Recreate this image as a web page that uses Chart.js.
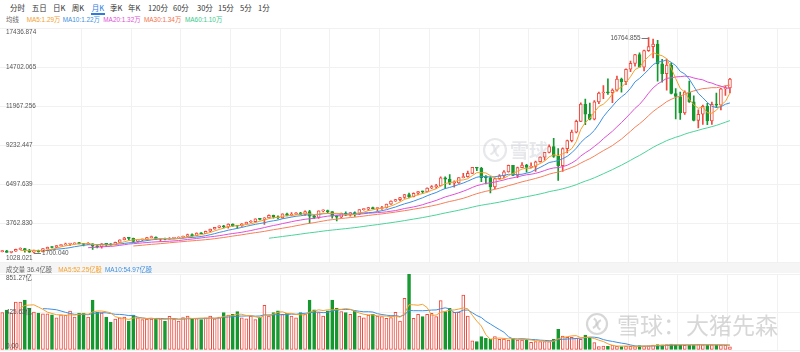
<!DOCTYPE html>
<html><head><meta charset="utf-8">
<script src="https://cdn.jsdelivr.net/npm/chart.js@4.4.1/dist/chart.umd.min.js"></script>
<style>
html,body{margin:0;padding:0;background:#fff;}
#wrap{position:relative;width:800px;height:352px;overflow:hidden;font-family:"Liberation Sans","Noto Sans CJK SC",sans-serif;}
.tab{position:absolute;top:4.2px;font-size:7.5px;line-height:1;color:#333;white-space:nowrap;font-family:"Noto Sans CJK SC",sans-serif;}
.lg{position:absolute;font-size:6.4px;line-height:1;white-space:nowrap;font-family:"Liberation Sans","Noto Sans CJK SC",sans-serif;}
#ul{position:absolute;left:90.5px;top:13.2px;width:14px;height:1.6px;background:#2b7be0;}
#band{position:absolute;left:0;top:263px;width:800px;height:10px;background:#f5f5f5;}
canvas{position:absolute;left:0;}
</style></head>
<body><div id="wrap">
<div class="tab" style="left:10px">分时</div>
<div class="tab" style="left:31.7px">五日</div>
<div class="tab" style="left:53px">日K</div>
<div class="tab" style="left:71.7px">周K</div>
<div class="tab" style="left:91.7px;color:#2b7be0">月K</div>
<div class="tab" style="left:110px">季K</div>
<div class="tab" style="left:128px">年K</div>
<div class="tab" style="left:148px">120分</div>
<div class="tab" style="left:173px">60分</div>
<div class="tab" style="left:197px">30分</div>
<div class="tab" style="left:218px">15分</div>
<div class="tab" style="left:240px">5分</div>
<div class="tab" style="left:258px">1分</div>
<div id="ul"></div>
<div class="lg" style="left:6px;top:17.1px;color:#666">均线</div>
<div class="lg" style="left:26.7px;top:17.1px;color:#f5a02a">MA5:1.29万</div>
<div class="lg" style="left:62.7px;top:17.1px;color:#3d8fe0">MA10:1.22万</div>
<div class="lg" style="left:103.3px;top:17.1px;color:#e04fd6">MA20:1.32万</div>
<div class="lg" style="left:144px;top:17.1px;color:#f5704a">MA30:1.34万</div>
<div class="lg" style="left:185px;top:17.1px;color:#38c888">MA60:1.10万</div>
<canvas id="pc" width="800" height="264" style="top:0"></canvas>
<div id="band"></div>
<canvas id="vc" width="800" height="88" style="top:264px"></canvas>
<div class="lg" style="left:6px;top:266.8px;color:#666">成交量 36.4亿股</div>
<div class="lg" style="left:58.3px;top:266.8px;color:#f5a02a">MA5:52.25亿股</div>
<div class="lg" style="left:105px;top:266.8px;color:#3d8fe0">MA10:54.97亿股</div>
</div>
<script>
// ---- data: monthly candles Dec 2009 .. May 2023 ----
const opens = [1797,
 1860,1741,1819,1957,2007,1862,1764,1868,1781,2000,2091,2087,
 2218,2265,2327,2339,2409,2360,2300,2342,2171,2136,2337,2306,
 2278,2446,2626,2755,2723,2515,2616,2632,2773,2800,2662,2677,
 2661,2732,2738,2818,2866,2988,2910,3094,3048,3218,3372,3487,
 3592,3521,3714,3596,3587,3736,3850,3889,4082,4050,4158,4334,
 4236,4151,4444,4334,4415,4508,4396,4589,4274,4181,4648,4665,
 4593,4280,4201,4483,4341,4524,4418,4730,4771,4875,4801,4810,
 4864,5118,5330,5436,5584,5788,5647,5880,5988,5979,6248,6337,
 6396,6950,6855,6581,6606,6967,7040,7272,7690,7628,6967,6950,
 6330,6906,7097,7378,7826,7128,7672,7842,7692,7750,8083,8403,
 8733,9151,8462,7813,9000,9555,10157,10905,12111,11418,11053,12268,
 12888,12925,12909,13091,13861,13687,14554,14959,15583,14690,15850,16135,
 16320,14930,14238,14838,12855,12643,11504,12947,12272,10971,11406,11952,
 10940,12101,12042,13181,13245];
const highs = [1885,
 1887,1823,1967,2061,2030,1951,1902,1905,2010,2113,2148,2222,
 2287,2389,2352,2417,2439,2369,2432,2354,2258,2363,2353,2355,
 2471,2629,2795,2794,2750,2620,2672,2793,2878,2822,2682,2741,
 2782,2780,2825,2875,3016,3041,3102,3130,3236,3376,3495,3598,
 3632,3738,3736,3640,3752,3860,3969,4082,4118,4169,4362,4355,
 4303,4447,4484,4520,4526,4536,4643,4690,4380,4655,4717,4698,
 4593,4333,4498,4580,4530,4580,4735,4800,4896,4915,4880,4965,
 5124,5350,5462,5600,5800,5896,5900,5998,6035,6260,6420,6500,
 7022,7030,7187,6750,6980,7276,7430,7700,7690,7700,7120,7040,
 6940,7180,7460,7845,7840,7710,8030,7900,8000,8120,8430,8740,
 9270,9720,9000,9050,9600,10300,10990,12200,12466,12190,12360,12950,
 13410,13880,13180,14070,13940,14580,15120,15600,15700,15900,16764.855,16660,
 16580,15250,15270,14980,13200,12950,13040,13720,12700,11720,12050,12170,
 12260,12880,13210,13400,13920];
const lows = [1778,
 1740,1712,1815,1950,1765,1745,1700.04,1764,1780,1990,2060,2080,
 2201,2254,2205,2316,2330,2197,2290,1953,2055,2040,2140,2223,
 2270,2439,2607,2620,2444,2455,2540,2600,2750,2631,2502,2620,
 2660,2700,2722,2753,2860,2862,2900,3045,3046,3183,3360,3455,
 3458,3443,3551,3415,3555,3720,3845,3860,4018,3700,4150,4140,
 4078,4110,4300,4300,4395,4380,4325,3787,4100,4120,4565,4520,
 4132,3948,4150,4313,4281,4260,4385,4702,4680,4790,4650,4740,
 4840,5100,5305,5340,5525,5550,5620,5755,5860,5970,6200,6210,
 6390,6200,6475,6300,6560,6950,7000,7240,7450,6685,6530,5900,
 6200,6850,6950,7350,7100,6976,7660,7360,7660,7410,8060,8200,
 8700,8390,6771,7400,8700,9470,10090,10880,10680,11000,11000,12150,
 12500,12790,12210,13020,12950,13480,14390,14770,14690,14440,15800,15350,
 13720,13640,13090,12820,11070,11040,11400,12240,10940,10440,10690,10670,
 10700,11860,11700,12720,12900];
const closes = [1860,
 1741,1819,1957,2007,1862,1764,1868,1781,2000,2091,2087,2218,
 2265,2327,2339,2409,2360,2300,2342,2171,2136,2337,2306,2278,
 2446,2626,2755,2723,2515,2616,2632,2773,2800,2662,2677,2661,
 2732,2738,2818,2866,2988,2910,3094,3048,3218,3372,3487,3592,
 3521,3714,3596,3587,3736,3850,3889,4082,4050,4158,4334,4236,
 4151,4444,4334,4415,4508,4396,4589,4274,4181,4648,4665,4593,
 4280,4201,4483,4341,4524,4418,4730,4771,4875,4801,4810,4864,
 5118,5330,5436,5584,5788,5647,5880,5988,5979,6248,6337,6396,
 6950,6855,6581,6606,6967,7040,7272,7690,7628,6967,6950,6330,
 6906,7097,7378,7826,7128,7672,7842,7692,7750,8083,8403,8733,
 9151,8462,7813,9000,9555,10157,10905,12111,11418,11053,12268,12888,
 12925,12909,13091,13861,13687,14554,14959,15583,14690,15850,16135,16320,
 14930,14238,14838,12855,12643,11504,12947,12272,10971,11406,11952,10940,
 12101,12042,13181,13245,13865];
// volume, 亿股
const volumes = [420,
 448,414,537,537,560,470,425,413,406,406,395,359,
 395,388,436,370,414,414,370,560,425,414,370,314,
 347,359,370,324,392,359,342,347,347,347,347,324,
 376,347,324,362,381,353,353,340,360,380,350,370,
 420,390,400,430,360,350,380,340,370,500,380,420,
 440,400,410,380,360,420,400,560,450,420,380,440,
 560,470,430,420,400,440,380,360,390,400,380,373,
 355,362,422,325,578,851.27,355,400,373,400,410,373,
 553,429,467,422,422,616,381,104,93,149,131,123,
 149,120,123,112,131,112,112,120,86,93,93,93,
 93,120,231,157,142,142,131,120,168,142,82,37,
 45,40,55,42,38,45,40,38,50,45,48,55,
 60,58,62,65,60,55,52,56,58,60,57.45,57,
 58,57.5,56,53.35,36.4];
const priceTickLabels = ['17436.874','14702.065','11967.256','9232.447','6497.639','3762.830','1028.021'];
const volTickLabels = ['851.27亿','425.63亿','0.00'];
const volTickValues = [851.27, 425.635, 0];

// ---- styles ----
const UP = '#ee4a3e', DOWN = '#15982f';
const C_MA5 = '#f5a02a', C_MA10 = '#3d8fe0', C_MA20 = '#e04fd6', C_MA30 = '#f5805a', C_MA60 = '#4cd39a';
const LABEL_FONT = '6.4px "Liberation Sans", "Noto Sans CJK SC", sans-serif';
const X_MIN = -0.5, X_MAX = 176.5, GRID_STEP = 11, GRID_START = 1;
const GRID_COLOR = '#f1f1f1';

const priceTicks = priceTickLabels.map(Number);
const isUp = closes.map((c, i) => c >= opens[i]);
function sma(arr, n) {
  const out = [];
  for (let i = 0; i < arr.length; i++) {
    if (i < n - 1) { out.push(null); continue; }
    let s = 0; for (let j = i - n + 1; j <= i; j++) s += arr[j];
    out.push(s / n);
  }
  return out;
}
const pts = arr => arr.map((v, i) => ({x: i, y: v}));
function lineDs(arr, color) {
  return {type: 'line', data: pts(arr), borderColor: color, borderWidth: 1, pointRadius: 0, tension: 0, order: 0, clip: false};
}
function xScale() {
  return {
    type: 'linear', min: X_MIN, max: X_MAX, offset: false,
    ticks: {display: false}, border: {display: false},
    grid: {color: GRID_COLOR, drawTicks: false},
    afterBuildTicks(s) { const t = []; for (let v = GRID_START; v < X_MAX; v += GRID_STEP) t.push({value: v}); s.ticks = t; }
  };
}
function labelPlugin(id, values, labels) {
  return {id, afterDraw(chart) {
    const {ctx, chartArea: a, scales: {y}} = chart;
    ctx.save(); ctx.font = LABEL_FONT; ctx.fillStyle = '#555'; ctx.textAlign = 'left';
    values.forEach((v, k) => {
      const py = y.getPixelForValue(v);
      let b = 'middle', dy = 0;
      if (k === 0) { b = 'top'; dy = 1.2; } else if (k === values.length - 1) { b = 'bottom'; dy = -0.8; }
      ctx.textBaseline = b; ctx.fillText(labels[k], a.left + 6, py + dy);
    });
    ctx.restore();
  }};
}
function drawLogo(ctx, cx, cy, r, color, lw) {
  ctx.save(); ctx.strokeStyle = color; ctx.lineWidth = lw;
  ctx.beginPath(); ctx.arc(cx, cy, r, 0, Math.PI * 2); ctx.stroke();
  ctx.beginPath(); ctx.arc(cx - r * 0.55, cy - r * 0.1, r * 0.5, -1.1, 1.3); ctx.stroke();
  ctx.beginPath(); ctx.arc(cx + r * 0.55, cy + r * 0.1, r * 0.5, 2.0, 4.4); ctx.stroke();
  ctx.restore();
}
const extremaPlugin = {id: 'extrema', afterDatasetsDraw(chart) {
  const {ctx, scales: {x, y}} = chart;
  let hi = 0, lo = 0;
  highs.forEach((h, i) => { if (h > highs[hi]) hi = i; });
  lows.forEach((l, i) => { if (l < lows[lo]) lo = i; });
  ctx.save(); ctx.font = LABEL_FONT; ctx.fillStyle = '#555'; ctx.strokeStyle = '#777'; ctx.lineWidth = 1; ctx.textBaseline = 'middle';
  let px = x.getPixelForValue(hi), py = Math.round(y.getPixelForValue(highs[hi])) + 0.5;
  ctx.beginPath(); ctx.moveTo(px, py); ctx.lineTo(px - 7, py); ctx.stroke();
  ctx.textAlign = 'right'; ctx.fillText(highs[hi].toFixed(3), px - 8, py);
  px = x.getPixelForValue(lo); py = Math.round(y.getPixelForValue(lows[lo])) + 0.5;
  ctx.beginPath(); ctx.moveTo(px, py); ctx.lineTo(px + 7, py); ctx.stroke();
  ctx.textAlign = 'left'; ctx.fillText(lows[lo].toFixed(3), px + 8, py);
  ctx.restore();
}};
const wmCenter = {id: 'wmc', afterDraw(chart) {
  const ctx = chart.ctx; const col = 'rgba(175,178,190,0.3)';
  drawLogo(ctx, 495, 150, 11, col, 2.2);
  ctx.save(); ctx.fillStyle = col; ctx.font = 'bold 19px "Noto Sans CJK SC", sans-serif';
  ctx.textBaseline = 'middle'; ctx.textAlign = 'left'; ctx.fillText('雪球', 510, 151); ctx.restore();
}};
const wmBottom = {id: 'wmb', afterDraw(chart) {
  const ctx = chart.ctx; const col = 'rgba(160,160,160,0.42)';
  drawLogo(ctx, 597, 60, 10, col, 2.2);
  ctx.save(); ctx.fillStyle = col; ctx.font = '23px "Noto Sans CJK SC", sans-serif';
  ctx.textBaseline = 'middle'; ctx.textAlign = 'left'; ctx.fillText('雪球：大猪先森', 617, 61); ctx.restore();
}};

// ---- price chart ----
new Chart(document.getElementById('pc'), {
  type: 'bar',
  data: {datasets: [
    lineDs(sma(closes, 5), C_MA5),
    lineDs(sma(closes, 10), C_MA10),
    lineDs(sma(closes, 20), C_MA20),
    lineDs(sma(closes, 30), C_MA30),
    lineDs(sma(closes, 60), C_MA60),
    {type: 'bar', order: 1, data: closes.map((c, i) => ({x: i, y: [opens[i], c]})),
     backgroundColor: isUp.map(u => u ? '#ffffff' : DOWN), borderColor: isUp.map(u => u ? UP : DOWN),
     borderWidth: 1, borderSkipped: false, barThickness: 3, minBarLength: 1, grouped: false},
    {type: 'bar', order: 2, data: highs.map((h, i) => ({x: i, y: [lows[i], h]})),
     backgroundColor: isUp.map(u => u ? UP : DOWN), borderWidth: 0, barThickness: 1, grouped: false}
  ]},
  options: {
    responsive: false, animation: false, devicePixelRatio: 1,
    layout: {padding: {top: 28, bottom: 1.4, left: 0, right: 0}},
    plugins: {legend: {display: false}, tooltip: {enabled: false}},
    datasets: {bar: {grouped: false}},
    scales: {
      x: xScale(),
      y: {min: priceTicks[priceTicks.length - 1], max: priceTicks[0],
          ticks: {display: false}, border: {display: false}, grid: {color: GRID_COLOR, drawTicks: false},
          afterBuildTicks(s) { s.ticks = priceTicks.map(v => ({value: v})); }}
    }
  },
  plugins: [labelPlugin('plab', priceTicks, priceTickLabels), extremaPlugin, wmCenter]
});

// ---- volume chart ----
new Chart(document.getElementById('vc'), {
  type: 'bar',
  data: {datasets: [
    lineDs(sma(volumes, 5), C_MA5),
    lineDs(sma(volumes, 10), C_MA10),
    {type: 'bar', order: 1, data: pts(volumes),
     backgroundColor: isUp.map(u => u ? '#ffffff' : DOWN), borderColor: isUp.map(u => u ? UP : DOWN),
     borderWidth: 1, borderSkipped: false, barThickness: 3, grouped: false}
  ]},
  options: {
    responsive: false, animation: false, devicePixelRatio: 1,
    layout: {padding: {top: 10, bottom: 2, left: 0, right: 0}},
    plugins: {legend: {display: false}, tooltip: {enabled: false}},
    scales: {
      x: xScale(),
      y: {min: 0, max: Math.max(...volumes),
          ticks: {display: false}, border: {display: false}, grid: {color: GRID_COLOR, drawTicks: false},
          afterBuildTicks(s) { s.ticks = volTickValues.map(v => ({value: v})); }}
    }
  },
  plugins: [labelPlugin('vlab', volTickValues, volTickLabels), wmBottom]
});
</script>
</body></html>
